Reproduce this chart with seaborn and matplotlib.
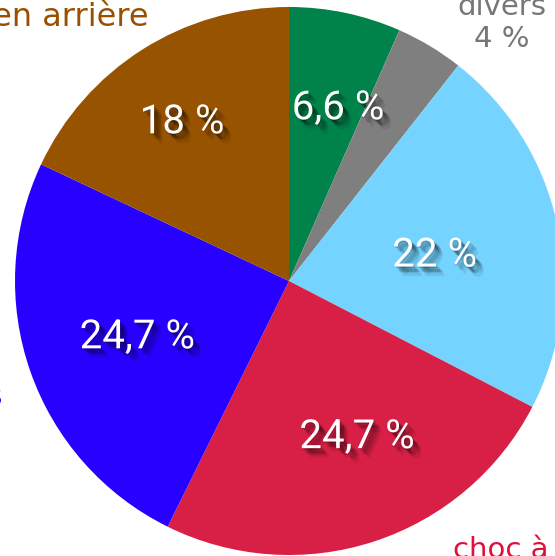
import numpy as np
import seaborn as sns
import matplotlib.pyplot as plt
import matplotlib.patheffects as pe

# data, clockwise from 12 o'clock
categories = ["choc frontal", "divers", "choc latéral", "choc à\nl'avant",
              "obstacles fixes", "choc en arrière"]
shares = [6.6, 4.0, 22.0, 24.7, 24.7, 18.0]
pct_labels = ["6,6 %", "4 %", "22 %", "24,7 %", "24,7 %", "18 %"]

colors = ["#00834a", "#7f7f7f", "#75d4ff", "#d81f45", "#2800ff", "#985300"]
text_colors = ["#00834a", "#777777", "#2aa8e0", "#e0103a", "#2800ff", "#9a5000"]
outer_sizes = [21, 21, 21, 21, 21, 23]

sns.set_theme(style="white")

fig = plt.figure(figsize=(5.55, 5.56), dpi=100)
ax = fig.add_axes([0, 0, 1, 1])

wedges, _ = ax.pie(shares, colors=colors, startangle=90, counterclock=False,
                   radius=1, wedgeprops=dict(linewidth=0))

# the view is a crop of a larger slide: pie centre a bit left of middle
ax.set_xlim(-289 / 274, 266 / 274)
ax.set_ylim(-275 / 274, 281 / 274)
ax.set_aspect("auto")
ax.axis("off")

# soft drop shadow built from a few faint offset copies
shadow = [pe.SimplePatchShadow(offset=(d, -d), shadow_rgbFace="black", alpha=0.13)
          for d in (1, 2, 3, 4, 5)]
shadow += [pe.SimplePatchShadow(offset=(d, -d - 1), shadow_rgbFace="black", alpha=0.08)
           for d in (0, 3, 6)]
shadow.append(pe.Normal())

# inner percentage labels (polar position: angle in degrees, radius)
inner_pos = {0: (74.2, 0.657), 2: (10.1, 0.54), 3: (-66.4, 0.62),
             4: (-159.8, 0.59), 5: (123.9, 0.70)}
for i, (ang, r) in inner_pos.items():
    a = np.deg2rad(ang)
    ax.text(r * np.cos(a), r * np.sin(a), pct_labels[i], color="white",
            ha="center", va="center", fontsize=29, family="Roboto",
            path_effects=shadow)

# outer category labels, mostly cut by the frame
outer_pos = [(78, 1.16, "left"), (50.5, 1.22, "center"), (12, 1.16, "left"),
             (-60, 1.2, "left"), (-158, 1.13, "right"), (118, 1.09, "right")]
for i, (ang, r, ha) in enumerate(outer_pos):
    a = np.deg2rad(ang)
    txt = categories[i]
    if i == 1:
        txt = categories[i] + "\n" + pct_labels[i]
    ax.text(r * np.cos(a), r * np.sin(a), txt, color=text_colors[i],
            ha=ha, va="center", fontsize=outer_sizes[i], family="DejaVu Sans",
            linespacing=1.2)

plt.savefig("out.png", dpi=100)
plt.close()
